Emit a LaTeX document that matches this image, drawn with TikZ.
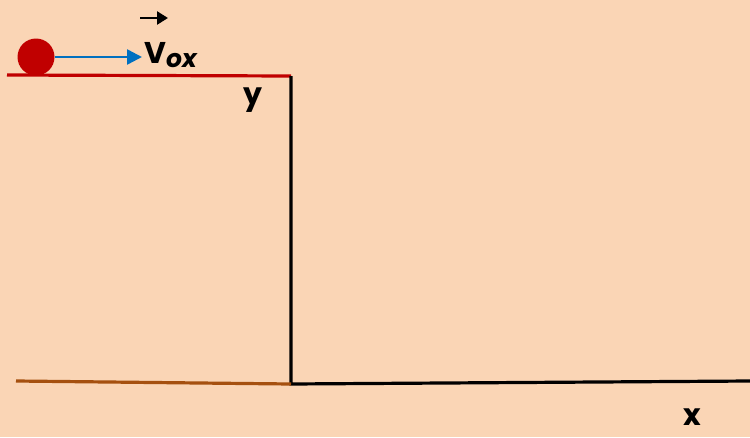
\documentclass[tikz,border=0pt]{standalone}
\usepackage{fontspec}
\setmainfont{Poppins}
\usetikzlibrary{arrows.meta}
\definecolor{bg}{HTML}{FAD5B5}
\definecolor{ballred}{HTML}{C00000}
\definecolor{arrowblue}{HTML}{0070C0}
\definecolor{brownline}{HTML}{A5500F}
\tikzset{lbl/.style={font=\fontsize{30}{32}\selectfont\bfseries, inner sep=0pt, text=black}}
\begin{document}
\begin{tikzpicture}[x=1pt,y=-1pt]
\fill[bg] (0,0) rectangle (750,437);
\useasboundingbox (0,0) rectangle (750,437);
\coordinate (r0) at (7,75);
\coordinate (corner) at (291,76);
\coordinate (bottom) at (291,384);
\coordinate (b0) at (16,381);
\coordinate (xend) at (750,381);
\draw[ballred, line width=3.2pt] (r0) -- (corner);
\draw[black, line width=3.2pt] (corner) -- (bottom) -- (xend);
\draw[brownline, line width=3.2pt] (b0) -- (bottom);
\node[circle, fill=ballred, minimum size=37pt, inner sep=0pt] (ball) at (36,57) {};
\coordinate (vtip) at (142,57);
\draw[arrowblue, line width=2.5pt, -{Triangle[length=15pt,width=15pt]}] (ball.east) -- (vtip);
\node[lbl, anchor=base west] (v) at (144,63) {V\raisebox{-4pt}{\fontsize{25}{27}\selectfont\bfseries\itshape ox}};
\coordinate (a0) at (140,18);
\coordinate (a1) at (168,18);
\draw[black, line width=2.5pt, -{Triangle[length=11pt,width=13pt]}] (a0) -- (a1);
\node[lbl] (y) at (253,100) {y};
\node[lbl] (x) at (692,417) {x};
\end{tikzpicture}
\end{document}
